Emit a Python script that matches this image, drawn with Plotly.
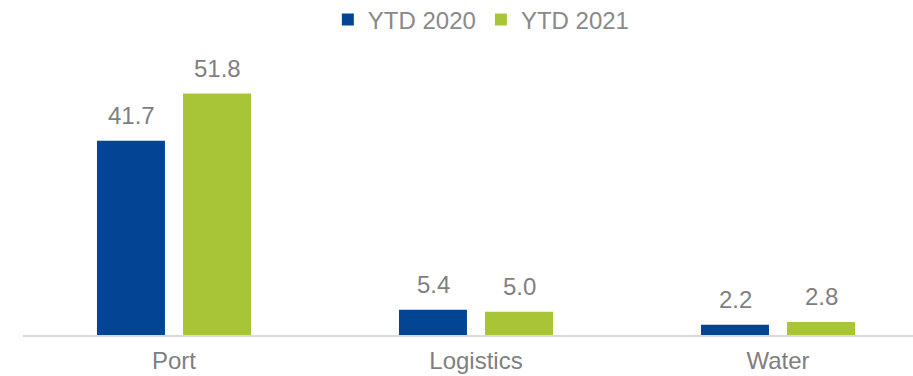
import plotly.graph_objects as go

categories = ["Port", "Logistics", "Water"]
ytd_2020 = [41.7, 5.4, 2.2]
ytd_2021 = [51.8, 5.0, 2.8]
series_names = ["YTD 2020", "YTD 2021"]

BLUE = "#044494"
GREEN = "#A8C437"
GREY = "#7F7F7F"
FONT = "Liberation Sans, Arial, sans-serif"
FS = 24

fig = go.Figure()
for name, vals, color in [(series_names[0], ytd_2020, BLUE), (series_names[1], ytd_2021, GREEN)]:
    fig.add_trace(go.Bar(
        x=categories, y=vals, name=name, marker_color=color,
        marker_line_width=0,
    ))

# value labels above each bar
for vals, shift in [(ytd_2020, -43), (ytd_2021, 43)]:
    for cat, v in zip(categories, vals):
        fig.add_annotation(
            x=cat, y=v, text=f"{v:.1f}", showarrow=False,
            xshift=shift, yshift=10, yanchor="bottom",
            font=dict(family=FONT, size=FS, color=GREY),
        )

fig.update_layout(
    width=913, height=376,
    margin=dict(l=23, r=0, t=40, b=41, autoexpand=False),
    paper_bgcolor="white", plot_bgcolor="white",
    barmode="group", bargap=0.43, bargroupgap=0.21,
    showlegend=True,
    legend=dict(
        orientation="h", x=0.515, xanchor="center",
        y=1 - 20 / 376, yref="container", yanchor="middle",
        font=dict(family=FONT, size=FS, color="#898989"),
        tracegroupgap=0,
    ),
    font=dict(family=FONT, size=FS, color=GREY),
)
fig.update_xaxes(
    range=[-0.5, 2.447], showline=True, linecolor="#D9D9D9", linewidth=1.5,
    ticks="outside", ticklen=3, tickcolor="rgba(0,0,0,0)",
    tickfont=dict(family=FONT, size=FS, color=GREY),
    showgrid=False, fixedrange=True,
)
fig.update_yaxes(range=[0, 63.3], visible=False, showgrid=False)

fig.write_html("out.html")
